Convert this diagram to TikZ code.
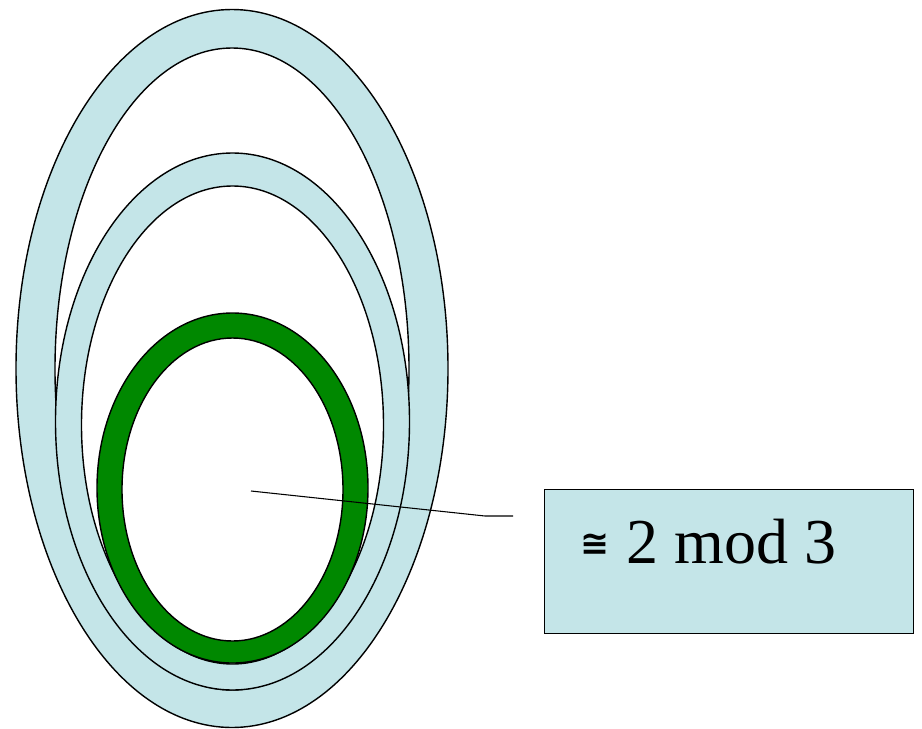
\documentclass[tikz,border=0pt]{standalone}
\usepackage{fontspec}
\setmainfont{Liberation Serif}
\newfontfamily\symfont{DejaVu Sans}
\usetikzlibrary{positioning}
\definecolor{paleblue}{RGB}{196,229,232}
\definecolor{ringgreen}{RGB}{0,136,0}
\tikzset{
  ring/.style={draw=black, line width=1.05pt, fill=#1, even odd rule},
  valbox/.style={rectangle, draw=black, line width=0.9pt, fill=paleblue,
                 minimum width=276.75pt, minimum height=108pt, inner sep=0pt},
  valtxt/.style={inner sep=0pt, font=\fontsize{48}{56}\selectfont},
  lead/.style={line width=0.8pt},
}

\begin{document}
\begin{tikzpicture}[x=0.75pt,y=-0.75pt]
\useasboundingbox (0,0) rectangle (922,729);
% the three rings
\draw[ring=paleblue] (232,368.5) ellipse [x radius=216, y radius=359]
                     (232,369) ellipse [x radius=177, y radius=321];
\draw[ring=paleblue] (232.5,421.5) ellipse [x radius=177, y radius=268.5]
                     (232.5,425) ellipse [x radius=151, y radius=239];
\draw[ring=ringgreen] (232.5,488) ellipse [x radius=135.5, y radius=175]
                      (232.5,489.5) ellipse [x radius=110.5, y radius=151.5];
% label
\node[valbox, anchor=north west] (modbox) at (544,489) {};
\node[valtxt, anchor=base west] (modtxt) at (580,563)
  {\raisebox{6pt}{\symfont\bfseries\fontsize{26}{30}\selectfont ≅}\hspace{13pt}2 mod 3};
\coordinate (ptr) at (251,491);
\coordinate (knee) at (485,516);
\coordinate (tail) at (513,516);
\draw[lead] (ptr) -- (knee) -- (tail);
\end{tikzpicture}
\end{document}
